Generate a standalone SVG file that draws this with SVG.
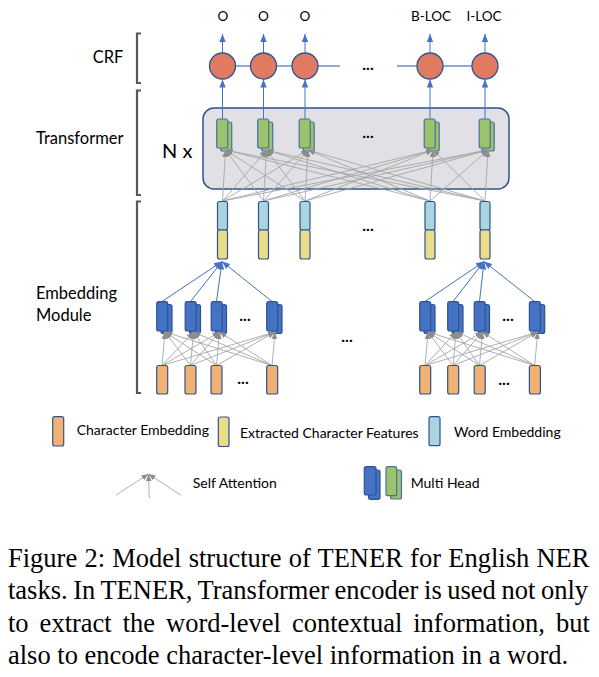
<svg xmlns="http://www.w3.org/2000/svg" width="599" height="677" viewBox="0 0 599 677">
<style>
.lbl{font-family:Lato,"Liberation Sans",sans-serif;font-size:14px;fill:#000}
.side{font-family:Lato,"Liberation Sans",sans-serif;font-size:16.5px;fill:#000}
.top{font-family:Lato,"Liberation Sans",sans-serif;font-size:13.5px;fill:#000;text-anchor:middle}
.dots{font-family:Lato,"Liberation Sans",sans-serif;font-size:16px;font-weight:bold;fill:#000;text-anchor:middle}
.cap{font-family:"Liberation Serif","Times New Roman",serif;font-size:26.5px;fill:#000}
.brk{fill:none;stroke:#595959;stroke-width:2.2}
.crf{fill:#e07b61;stroke:#2f528f;stroke-width:1.3}
.grn{fill:#9bc36b;stroke:#4a70a8;stroke-width:1.2}
.blu{fill:#4472c4;stroke:#2f528f;stroke-width:1.2}
.ora{fill:#f1b172;stroke:#2f528f;stroke-width:1.2}
.yel{fill:#ebdc87;stroke:#2f528f;stroke-width:1.2}
.lbl2{fill:#a9d4e0;stroke:#2f528f;stroke-width:1.2}
.att{stroke:#a6a6a6;stroke-width:0.9;fill:none;marker-end:url(#ga)}
.bl{stroke:#4472c4;stroke-width:1;fill:none;marker-end:url(#ba)}
.hl{stroke:#8eaadb;stroke-width:2;fill:none}
</style>
<defs>
<marker id="ga" viewBox="0 0 10 10" refX="10" refY="5" markerWidth="7" markerHeight="7" markerUnits="userSpaceOnUse" orient="auto"><path d="M0,1 L10,5 L0,9 z" fill="#8c8c8c"/></marker>
<marker id="ba" viewBox="0 0 10 10" refX="10" refY="5" markerWidth="8" markerHeight="8" markerUnits="userSpaceOnUse" orient="auto"><path d="M0,1 L10,5 L0,9 z" fill="#4472c4"/></marker>
</defs>
<rect width="599" height="677" fill="#fff"/>

<g id="brackets">
<path class="brk" d="M141,33.5 H137 V83 H141"/>
<path class="brk" d="M141,90.5 H137 V195 H141"/>
<path class="brk" d="M141,201.5 H137 V393 H141"/>
<text class="side" x="108" y="63" text-anchor="middle" font-size="15">CRF</text>
<text class="side" x="36" y="144">Transformer</text>
<text class="side" x="36" y="299">Embedding</text>
<text class="side" x="36" y="321">Module</text>
</g>

<g id="transformer-box">
<rect x="203" y="108" width="306" height="81" rx="11" fill="#e1e0e4" stroke="#2f528f" stroke-width="1.5"/>
<text x="162" y="158" font-family="Lato,'Liberation Sans',sans-serif" font-size="20">N x</text>
</g>

<g id="connectors">
<path class="hl" d="M222.5,66 H340 M397,66 H485"/>
<path class="bl" d="M222.5,53 V34"/><path class="bl" d="M263.5,53 V34"/><path class="bl" d="M305,53 V34"/><path class="bl" d="M430,53 V34"/><path class="bl" d="M485,53 V34"/>
<path class="bl" d="M222.5,119 V79.5"/><path class="bl" d="M263.5,119 V79.5"/><path class="bl" d="M305,119 V79.5"/><path class="bl" d="M430,119 V79.5"/><path class="bl" d="M485,119 V79.5"/>
</g>

<g id="crf-nodes">
<circle class="crf" cx="222.5" cy="66" r="13"/>
<circle class="crf" cx="263.5" cy="66" r="13"/>
<circle class="crf" cx="305" cy="66" r="13"/>
<circle class="crf" cx="430" cy="66" r="13"/>
<circle class="crf" cx="485" cy="66" r="13"/>
<text class="dots" x="368" y="70">...</text>
</g>

<g id="outputs">
<text class="top" x="223" y="21">O</text>
<text class="top" x="263.5" y="21">O</text>
<text class="top" x="305" y="21">O</text>
<text class="top" x="431" y="21">B-LOC</text>
<text class="top" x="484" y="21">I-LOC</text>
</g>

<g id="transformer-heads">
<rect class="grn" x="220.7" y="122" width="11" height="29" rx="2"/><rect class="grn" x="216.7" y="119" width="11" height="29" rx="2"/>
<rect class="grn" x="261.7" y="122" width="11" height="29" rx="2"/><rect class="grn" x="257.7" y="119" width="11" height="29" rx="2"/>
<rect class="grn" x="303.2" y="122" width="11" height="29" rx="2"/><rect class="grn" x="299.2" y="119" width="11" height="29" rx="2"/>
<rect class="grn" x="428.2" y="122" width="11" height="29" rx="2"/><rect class="grn" x="424.2" y="119" width="11" height="29" rx="2"/>
<rect class="grn" x="483.2" y="122" width="11" height="29" rx="2"/><rect class="grn" x="479.2" y="119" width="11" height="29" rx="2"/>
<text class="dots" x="368" y="138">...</text>
</g>

<g id="transformer-attention">
<path class="att" d="M222.5,201 L225.5,150"/><path class="att" d="M263.5,201 L225.5,150"/><path class="att" d="M305,201 L225.5,150"/><path class="att" d="M430,201 L225.5,150"/><path class="att" d="M485,201 L225.5,150"/>
<path class="att" d="M222.5,201 L266.5,150"/><path class="att" d="M263.5,201 L266.5,150"/><path class="att" d="M305,201 L266.5,150"/><path class="att" d="M430,201 L266.5,150"/><path class="att" d="M485,201 L266.5,150"/>
<path class="att" d="M222.5,201 L308,150"/><path class="att" d="M263.5,201 L308,150"/><path class="att" d="M305,201 L308,150"/><path class="att" d="M430,201 L308,150"/><path class="att" d="M485,201 L308,150"/>
<path class="att" d="M222.5,201 L433,150"/><path class="att" d="M263.5,201 L433,150"/><path class="att" d="M305,201 L433,150"/><path class="att" d="M430,201 L433,150"/><path class="att" d="M485,201 L433,150"/>
<path class="att" d="M222.5,201 L488,150"/><path class="att" d="M263.5,201 L488,150"/><path class="att" d="M305,201 L488,150"/><path class="att" d="M430,201 L488,150"/><path class="att" d="M485,201 L488,150"/>
</g>

<g id="word-vectors">
<rect class="lbl2" x="217.5" y="201.5" width="10" height="28.5" rx="2"/><rect class="yel" x="217.5" y="230" width="10" height="29" rx="2"/>
<rect class="lbl2" x="258.5" y="201.5" width="10" height="28.5" rx="2"/><rect class="yel" x="258.5" y="230" width="10" height="29" rx="2"/>
<rect class="lbl2" x="300" y="201.5" width="10" height="28.5" rx="2"/><rect class="yel" x="300" y="230" width="10" height="29" rx="2"/>
<rect class="lbl2" x="425" y="201.5" width="10" height="28.5" rx="2"/><rect class="yel" x="425" y="230" width="10" height="29" rx="2"/>
<rect class="lbl2" x="480" y="201.5" width="10" height="28.5" rx="2"/><rect class="yel" x="480" y="230" width="10" height="29" rx="2"/>
<text class="dots" x="368" y="231">...</text>
</g>

<g id="char-converge">
<path class="bl" d="M162,301.5 L222,261.5"/><path class="bl" d="M190.5,301.5 L222,261.5"/><path class="bl" d="M216.5,301.5 L222,261.5"/><path class="bl" d="M272,301.5 L222,261.5"/>
<path class="bl" d="M425,301.5 L484,261.5"/><path class="bl" d="M453,301.5 L484,261.5"/><path class="bl" d="M479.5,301.5 L484,261.5"/><path class="bl" d="M534.7,301.5 L484,261.5"/>
</g>

<g id="char-heads-1">
<rect class="blu" x="161" y="304.5" width="11" height="29" rx="2"/><rect class="blu" x="156.7" y="301.7" width="11" height="29.3" rx="2"/>
<rect class="blu" x="189.5" y="304.5" width="11" height="29" rx="2"/><rect class="blu" x="185.2" y="301.7" width="11" height="29.3" rx="2"/>
<rect class="blu" x="215.5" y="304.5" width="11" height="29" rx="2"/><rect class="blu" x="211.2" y="301.7" width="11" height="29.3" rx="2"/>
<rect class="blu" x="271" y="304.5" width="11" height="29" rx="2"/><rect class="blu" x="266.7" y="301.7" width="11" height="29.3" rx="2"/>
<text class="dots" x="245" y="321">...</text>
</g>
<g id="char-heads-2">
<rect class="blu" x="424" y="304.5" width="11" height="29" rx="2"/><rect class="blu" x="419.7" y="301.7" width="11" height="29.3" rx="2"/>
<rect class="blu" x="452" y="304.5" width="11" height="29" rx="2"/><rect class="blu" x="447.7" y="301.7" width="11" height="29.3" rx="2"/>
<rect class="blu" x="478.5" y="304.5" width="11" height="29" rx="2"/><rect class="blu" x="474.2" y="301.7" width="11" height="29.3" rx="2"/>
<rect class="blu" x="533.7" y="304.5" width="11" height="29" rx="2"/><rect class="blu" x="529.4" y="301.7" width="11" height="29.3" rx="2"/>
<text class="dots" x="508" y="321">...</text>
</g>

<g id="char-attention">
<path class="att" d="M162,365.5 L165,332"/><path class="att" d="M190.5,365.5 L165,332"/><path class="att" d="M216.5,365.5 L165,332"/><path class="att" d="M272,365.5 L165,332"/>
<path class="att" d="M162,365.5 L193.5,332"/><path class="att" d="M190.5,365.5 L193.5,332"/><path class="att" d="M216.5,365.5 L193.5,332"/><path class="att" d="M272,365.5 L193.5,332"/>
<path class="att" d="M162,365.5 L219.5,332"/><path class="att" d="M190.5,365.5 L219.5,332"/><path class="att" d="M216.5,365.5 L219.5,332"/><path class="att" d="M272,365.5 L219.5,332"/>
<path class="att" d="M162,365.5 L275,332"/><path class="att" d="M190.5,365.5 L275,332"/><path class="att" d="M216.5,365.5 L275,332"/><path class="att" d="M272,365.5 L275,332"/>
<path class="att" d="M425,365.5 L428,332"/><path class="att" d="M453,365.5 L428,332"/><path class="att" d="M479.5,365.5 L428,332"/><path class="att" d="M534.7,365.5 L428,332"/>
<path class="att" d="M425,365.5 L456,332"/><path class="att" d="M453,365.5 L456,332"/><path class="att" d="M479.5,365.5 L456,332"/><path class="att" d="M534.7,365.5 L456,332"/>
<path class="att" d="M425,365.5 L482.5,332"/><path class="att" d="M453,365.5 L482.5,332"/><path class="att" d="M479.5,365.5 L482.5,332"/><path class="att" d="M534.7,365.5 L482.5,332"/>
<path class="att" d="M425,365.5 L537.7,332"/><path class="att" d="M453,365.5 L537.7,332"/><path class="att" d="M479.5,365.5 L537.7,332"/><path class="att" d="M534.7,365.5 L537.7,332"/>
</g>

<g id="char-emb">
<rect class="ora" x="156.7" y="365.5" width="11" height="28.5" rx="2"/>
<rect class="ora" x="185" y="365.5" width="11" height="28.5" rx="2"/>
<rect class="ora" x="211" y="365.5" width="11" height="28.5" rx="2"/>
<rect class="ora" x="266.7" y="365.5" width="11" height="28.5" rx="2"/>
<rect class="ora" x="419.7" y="365.5" width="11" height="28.5" rx="2"/>
<rect class="ora" x="447.7" y="365.5" width="11" height="28.5" rx="2"/>
<rect class="ora" x="474.2" y="365.5" width="11" height="28.5" rx="2"/>
<rect class="ora" x="529.4" y="365.5" width="11" height="28.5" rx="2"/>
<text class="dots" x="243" y="384">...</text>
<text class="dots" x="504" y="385">...</text>
<text class="dots" x="347" y="342">...</text>
</g>

<g id="legend">
<rect class="ora" x="52.7" y="416.7" width="11" height="29.3" rx="2"/>
<text class="lbl" x="76.7" y="435">Character Embedding</text>
<rect class="yel" x="218.3" y="417" width="10.7" height="29.5" rx="2"/>
<text class="lbl" x="240" y="437.5">Extracted Character Features</text>
<rect class="lbl2" x="429" y="416.7" width="11" height="29" rx="2"/>
<text class="lbl" x="454" y="437">Word Embedding</text>
<path class="att" d="M116,495 L148.5,474"/><path class="att" d="M149.3,498 L148.5,474"/><path class="att" d="M180.7,495 L148.5,474"/>
<text class="lbl" x="192.7" y="488">Self Attention</text>
<rect class="blu" x="368.5" y="470" width="11.5" height="29.3" rx="2"/><rect class="blu" x="364.3" y="466.7" width="11.7" height="28.3" rx="2"/>
<rect class="grn" x="390.5" y="470" width="11" height="29" rx="2"/><rect class="grn" x="386" y="466.7" width="10.7" height="29" rx="2"/>
<text class="lbl" x="410.7" y="488.3">Multi Head</text>
</g>

<g id="caption" class="cap">
<text x="8" y="567" word-spacing="0.61">Figure 2: Model structure of TENER for English NER</text>
<text x="8" y="599" word-spacing="-1.04">tasks. In TENER, Transformer encoder is used not only</text>
<text x="8" y="632" word-spacing="4.38">to extract the word-level contextual information, but</text>
<text x="8" y="664">also to encode character-level information in a word.</text>
</g>
</svg>
